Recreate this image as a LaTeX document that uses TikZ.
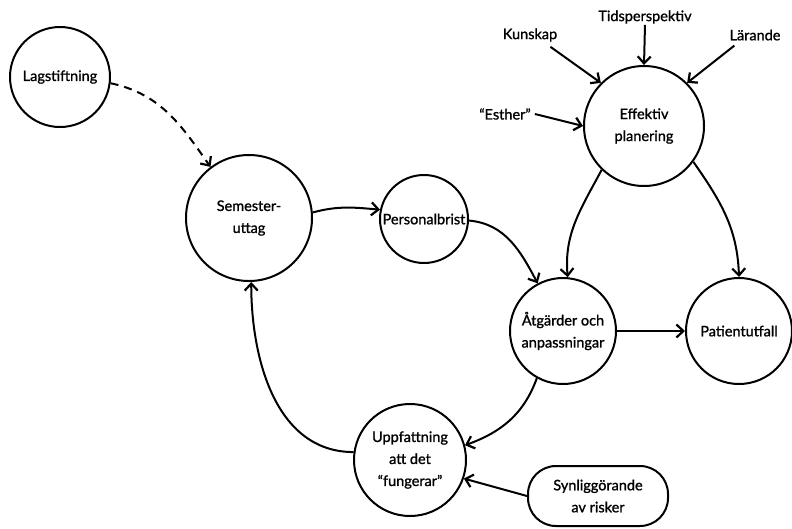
\documentclass[tikz,border=0pt]{standalone}
\usepackage{fontspec}
\setmainfont{Lato}[FakeBold=1.2]
\usetikzlibrary{arrows.meta}
\begin{document}
\begin{tikzpicture}[x=1pt,y=-1pt,
  every node/.style={font=\fontsize{14.5}{22}\selectfont, align=center},
  circ/.style={draw, circle, line width=2pt, inner sep=0pt},
  lbl/.style={inner sep=1pt},
  arr/.style={line width=2pt, -{Straight Barb[length=7pt,width=13pt,line width=2.2pt]}}
]
\useasboundingbox (0,0) rectangle (792,528);
\node[circ, minimum size=100pt] (lag) at (60,77) {Lagstiftning};
\node[circ, minimum size=126pt] (sem) at (249,218) {Semester-\\uttag};
\node[circ, minimum size=88pt] (pers) at (424,219) {Personalbrist};
\node[circ, minimum size=106pt] (atg) at (563,331) {Åtgärder och\\anpassningar};
\node[circ, minimum size=106pt] (pat) at (739,331) {Patientutfall};
\node[circ, minimum size=112pt] (upp) at (410,460) {Uppfattning\\att det\\“fungerar”};
\node[draw, line width=2pt, rounded corners=28pt, minimum width=140pt, minimum height=60pt] (syn) at (598,496) {Synliggörande\\av risker};
\node[circ, minimum size=120pt] (eff) at (644,126) {Effektiv\\planering};
\node[lbl] (kun) at (530,35) {Kunskap};
\node[lbl] (tid) at (645,17) {Tidsperspektiv};
\node[lbl] (lar) at (755,35) {Lärande};
\node[lbl] (est) at (505,114) {“Esther”};

\path (kun.south east) ++(-8,4) coordinate (k1);
\path (lar.south west) ++(6,4) coordinate (l1);
\path (est.east) ++(3,0) coordinate (e1);
\draw[arr] (k1) -- (eff.135);
\draw[arr] (tid.south) -- (eff.north);
\draw[arr] (l1) -- (eff.45);
\draw[arr] (e1) -- (eff.west);

\draw[arr, dashed, dash pattern=on 8pt off 6pt] (lag.-7) to[out=-12, in=125] (sem.127);
\draw[arr] (sem.5) to[out=15, in=175] (pers.168);
\draw[arr] (pers.-2) to[out=-5, in=118] (atg.118);
\draw[arr] (eff.-134) to[out=-118, in=95] (atg.85);
\draw[arr] (eff.-36) to[out=-55, in=92] (pat.90);
\draw[arr] (atg.east) -- (pat.west);
\draw[arr] (atg.-119) to[out=-110, in=20] (upp.15);
\draw[arr] (syn.west) -- (upp.-19);
\draw[arr] (upp.172) to[out=180, in=-90] (sem.-88);
\end{tikzpicture}
\end{document}
